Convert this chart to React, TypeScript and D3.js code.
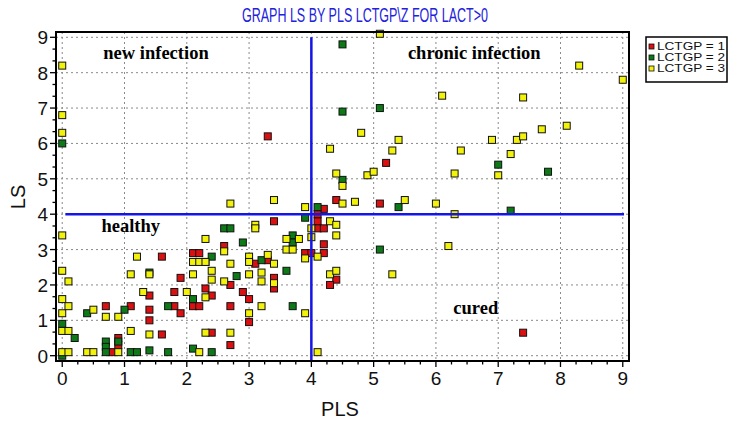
import React from 'react';
import * as d3 from 'd3';

// LCTGP = 1
const redPts: [number, number][] = [
  [1.6, 2.8], [1.9, 2.2], [1.4, 1.7], [1.8, 1.8], [0.7, 1.4], [1.1, 1.4], [1.4, 1.3],
  [1.4, 1.0], [1.8, 1.4], [1.9, 1.2], [1.6, 0.6], [0.9, 0.5], [0.9, 0.3], [0.8, 0.1],
  [2.7, 0.3], [3.4, 3.8], [4.1, 3.8], [4.1, 3.6], [4.2, 3.6], [2.6, 3.1], [2.1, 2.9],
  [2.2, 2.9], [3.1, 2.6], [3.3, 2.7], [3.4, 2.2], [3.4, 1.9], [2.7, 2.0], [2.3, 1.9],
  [2.4, 1.7], [2.9, 1.8], [3.0, 1.6], [2.1, 1.4], [2.2, 1.4], [2.7, 1.4], [3.0, 0.95],
  [2.4, 0.65], [5.2, 5.45], [4.4, 4.4], [5.1, 4.3], [4.2, 4.15], [4.1, 4.0], [4.2, 3.15],
  [3.9, 2.9], [4.0, 2.9], [4.2, 2.9], [4.4, 2.15], [4.3, 2.0], [3.3, 6.2], [7.4, 0.65],
];

// LCTGP = 2
const greenPts: [number, number][] = [
  [0, 6.0], [0, 0.9], [0, 0], [0.2, 0.5], [1.4, 2.35], [1.7, 1.4], [0.4, 1.2], [1.0, 1.3],
  [0.7, 0.4], [0.7, 0.25], [0.7, 0.1], [0.9, 0.4], [1.1, 0.1], [1.2, 0.1], [1.4, 0.15],
  [1.7, 0.1], [2.1, 0.2], [2.4, 0.1], [2.6, 3.6], [2.7, 3.6], [2.9, 3.2], [3.7, 3.4],
  [3.7, 3.2], [2.3, 2.65], [2.4, 2.8], [3.2, 2.7], [2.8, 2.25], [3.6, 2.4], [2.1, 1.6],
  [3.7, 1.4], [4.1, 4.2], [3.9, 3.9], [4.5, 4.97], [5.4, 4.2], [5.1, 3.0], [4.5, 8.8],
  [4.5, 6.9], [5.1, 7.0], [7.0, 5.4], [7.8, 5.2], [7.2, 4.1],
];

// LCTGP = 3
const yellowPts: [number, number][] = [
  [0, 8.2], [0, 6.8], [0, 6.3], [0, 3.4], [0, 2.4], [0, 1.6], [0, 1.2], [0, 0.7], [0, 0.1],
  [0.1, 2.1], [0.1, 1.4], [0.1, 0.7], [0.1, 0.1], [0.4, 0.1], [0.5, 0.1], [0.5, 1.3],
  [0.7, 1.1], [0.9, 1.1], [0.9, 0.1], [1.2, 2.8], [1.1, 2.3], [1.4, 2.3], [1.3, 1.8],
  [2.0, 1.8], [1.1, 0.7], [1.4, 0.6], [2.7, 4.3], [3.4, 4.4], [3.9, 4.2], [3.1, 3.7],
  [3.1, 3.6], [2.3, 3.3], [3.6, 3.3], [3.8, 3.3], [3.6, 3.0], [3.7, 3.0], [2.6, 2.95],
  [2.1, 2.65], [2.2, 2.65], [2.3, 2.65], [2.7, 2.6], [3.0, 2.8], [3.0, 2.65], [3.3, 2.85],
  [3.4, 2.6], [2.1, 2.3], [2.4, 2.4], [2.4, 2.15], [3.0, 2.3], [3.2, 2.35], [3.4, 2.05],
  [3.2, 2.1], [2.6, 2.1], [2.3, 1.65], [3.2, 1.4], [3.0, 1.2], [3.9, 1.2], [2.3, 0.65],
  [2.7, 0.65], [2.2, 0.1], [4.1, 0.1], [4.3, 5.85], [4.4, 5.15], [4.5, 4.8], [4.9, 5.1],
  [5.0, 5.2], [5.3, 5.8], [4.5, 4.3], [4.7, 4.35], [4.3, 3.8], [4.4, 3.7], [4.0, 3.6],
  [4.0, 3.35], [4.4, 3.4], [3.9, 2.75], [4.1, 2.8], [4.3, 2.3], [4.4, 2.4], [5.3, 2.3],
  [5.1, 9.1], [8.3, 8.2], [9.0, 7.8], [6.1, 7.35], [7.4, 7.3], [8.1, 6.5], [7.7, 6.4],
  [5.4, 6.1], [6.9, 6.1], [7.3, 6.1], [7.4, 6.2], [6.4, 5.8], [7.2, 5.7], [7.0, 5.1],
  [6.3, 5.15], [5.5, 4.4], [6.0, 4.3], [6.3, 4.0], [6.2, 3.1], [4.8, 6.3],
];

const groupLabels = ['LCTGP = 1', 'LCTGP = 2', 'LCTGP = 3'];
const groupColors = ['#dc1010', '#0c7a16', '#f2f20a'];
const groupData = [redPts, greenPts, yellowPts];

const majorTicks = d3.range(0, 10);
const regionLabels = [
  { text: 'new infection', x: 0.66, y: 8.4 },
  { text: 'chronic infection', x: 5.55, y: 8.4 },
  { text: 'healthy', x: 0.63, y: 3.5 },
  { text: 'cured', x: 6.28, y: 1.17 },
];

const W = 729;
const H = 423;
const left = 56, right = 629, top = 32, bottom = 361;

export default function App() {
  const x = d3.scaleLinear().domain([-0.1, 9.1]).range([left, right]);
  const y = d3.scaleLinear().domain([-0.15, 9.15]).range([bottom, top]);
  const xMinor = d3.range(0, 9.001, 0.25);
  const yMinor = d3.range(0, 9.001, 1 / 3);
  const s = 7;

  return (
    <svg width={W} height={H} style={{ position: 'absolute', left: 0, top: 0, background: '#fff' }}
      fontFamily="'Liberation Sans', Arial, sans-serif">
      <text x={365} y={22} textAnchor="middle" fontSize={20} fill="#2222dd"
        textLength={246} lengthAdjust="spacingAndGlyphs">GRAPH LS BY PLS LCTGP\Z FOR LACT&gt;0</text>

      {/* grid */}
      {majorTicks.map(t => (
        <g key={'g' + t} stroke="#8a8a8a" strokeWidth={1} strokeDasharray="2,3">
          <line x1={x(t)} x2={x(t)} y1={top} y2={bottom} />
          <line x1={left} x2={right} y1={y(t)} y2={y(t)} />
        </g>
      ))}

      {/* region labels */}
      {regionLabels.map(r => (
        <text key={r.text} x={x(r.x)} y={y(r.y)} fontFamily="'Liberation Serif', 'Times New Roman', serif"
          fontWeight="bold" fontSize={18.5}>{r.text}</text>
      ))}

      {/* points */}
      {groupData.map((pts, gi) => (
        <g key={'s' + gi}>
          {pts.map((d, i) => (
            <rect key={i} x={x(d[0]) - s / 2} y={y(d[1]) - s / 2} width={s} height={s}
              fill={groupColors[gi]} stroke="#111" strokeWidth={1} />
          ))}
        </g>
      ))}

      {/* quadrant lines */}
      <line x1={x(4)} x2={x(4)} y1={y(9)} y2={bottom} stroke="#1515e6" strokeWidth={2.5} />
      <line x1={x(0.05)} x2={x(9.02)} y1={y(4)} y2={y(4)} stroke="#1515e6" strokeWidth={2.5} />

      {/* frame */}
      <rect x={left} y={top} width={right - left} height={bottom - top} fill="none" stroke="#000" strokeWidth={2} />

      {/* axis ticks */}
      {xMinor.map((t, i) => (
        <line key={'xm' + i} x1={x(t)} x2={x(t)} y1={bottom} y2={bottom + (Math.abs(t - Math.round(t)) < 1e-6 ? 6 : 3.5)}
          stroke="#000" strokeWidth={1.3} />
      ))}
      {yMinor.map((t, i) => (
        <line key={'ym' + i} y1={y(t)} y2={y(t)} x1={left} x2={left - (Math.abs(t - Math.round(t)) < 1e-6 ? 6 : 3.5)}
          stroke="#000" strokeWidth={1.3} />
      ))}
      {majorTicks.map(t => (
        <text key={'xl' + t} x={x(t)} y={385} textAnchor="middle" fontSize={19} fill="#111">{t}</text>
      ))}
      {majorTicks.map(t => (
        <text key={'yl' + t} x={48} y={y(t) + 7} textAnchor="end" fontSize={19} fill="#111">{t}</text>
      ))}

      <text x={340} y={416} textAnchor="middle" fontSize={20} fill="#111">PLS</text>
      <text transform="translate(25,197) rotate(-90)" textAnchor="middle" fontSize={20} fill="#111">LS</text>

      {/* legend */}
      <rect x={646} y={37} width={81} height={45} fill="#fff" stroke="#000" strokeWidth={1.5} />
      {groupLabels.map((lab, i) => (
        <g key={lab}>
          <rect x={649} y={44 + i * 11} width={5} height={5} fill={groupColors[i]} stroke="#111" strokeWidth={0.8} />
          <text x={657} y={50 + i * 11} fontSize={11.5} fill="#111" textLength={68} lengthAdjust="spacingAndGlyphs">{lab}</text>
        </g>
      ))}
    </svg>
  );
}
